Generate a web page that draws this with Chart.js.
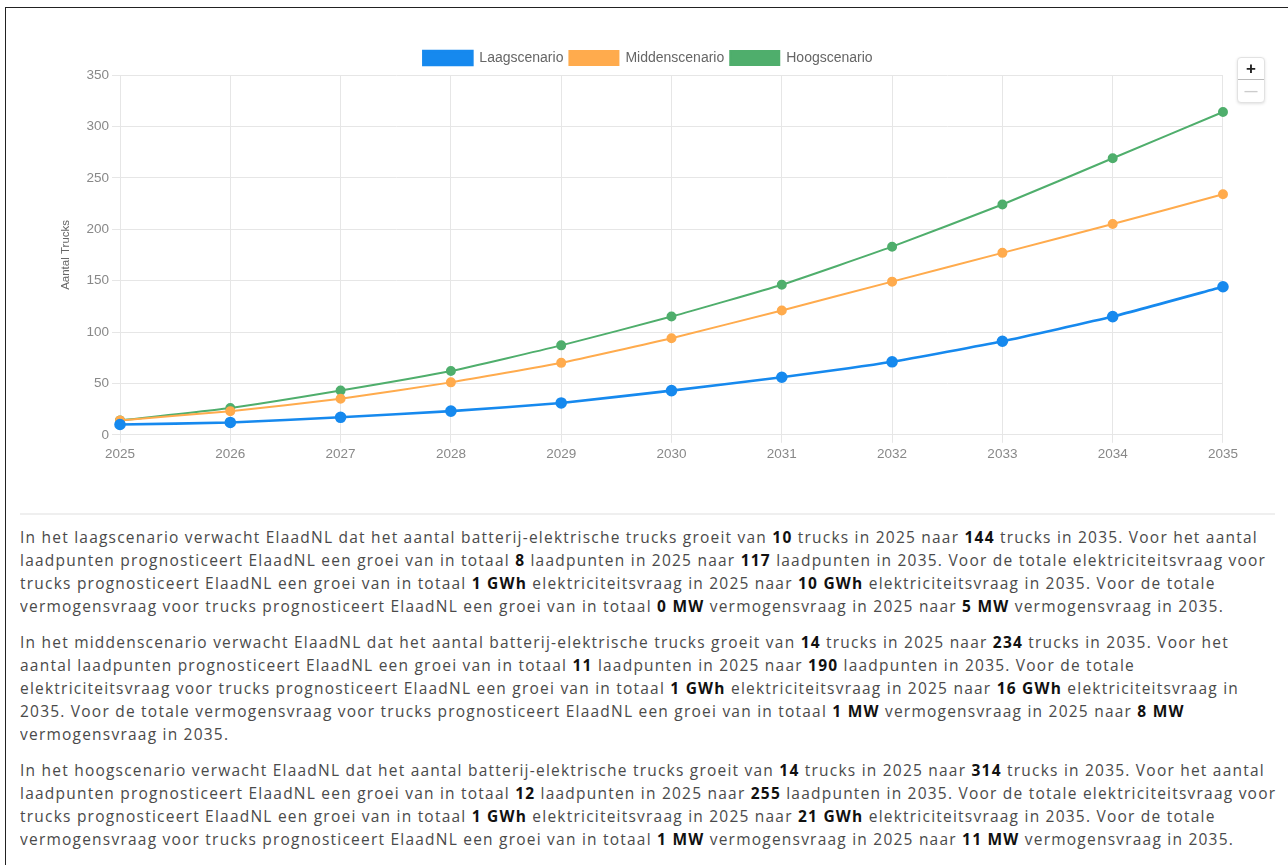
<!DOCTYPE html>
<html>
<head>
<meta charset="utf-8">
<script src="https://cdn.jsdelivr.net/npm/chart.js@4.4.1/dist/chart.umd.min.js"></script>
<style>
    html, body { margin: 0; padding: 0; background: #fff; width: 1288px; height: 865px; overflow: hidden; }
    #frame { position: absolute; left: 5px; top: 7px; width: 1300px; height: 900px; border-top: 1.5px solid #222; border-left: 1.5px solid #222; }
    #chartBox { position: absolute; left: 0px; top: 45px; width: 1241px; height: 420px; }
    #zoomCtl { position: absolute; left: 1237px; top: 57px; width: 26px; height: 44px; background: #fff; border: 1px solid #e2e2e2; border-radius: 4px; box-shadow: 0 1px 3px rgba(0,0,0,0.12); font-family: 'Liberation Sans', Arial, sans-serif; }
    #zoomCtl div { height: 21px; line-height: 21px; text-align: center; font-weight: bold; }
    #zoomCtl .plus { color: #222; font-size: 17px; border-bottom: 1px solid #bbb; }
    #zoomCtl .minus { color: #ccc; font-size: 13px; }
    #divider { position: absolute; left: 20px; top: 513px; width: 1255px; height: 2px; background: #efefef; }
    #text { position: absolute; left: 20px; top: 526px; width: 1256px; overflow: hidden; font-family: 'Open Sans', sans-serif; font-size: 15.5px; letter-spacing: 1.22px; line-height: 23px; color: #4a4a4a; white-space: nowrap; }
    #text p { margin: 0 0 13px 0; }
    #text b { color: #111; font-weight: 700; }
</style>
</head>
<body>
<div id="frame"></div>
<div id="chartBox"><canvas id="trucksChart"></canvas></div>
<div id="zoomCtl"><div class="plus">+</div><div class="minus">&#8212;</div></div>
<div id="divider"></div>
<div id="text">
<p>In het laagscenario verwacht ElaadNL dat het aantal batterij-elektrische trucks groeit van <b>10</b> trucks in 2025 naar <b>144</b> trucks in 2035. Voor het aantal<br>
laadpunten prognosticeert ElaadNL een groei van in totaal <b>8</b> laadpunten in 2025 naar <b>117</b> laadpunten in 2035. Voor de totale elektriciteitsvraag voor<br>
trucks prognosticeert ElaadNL een groei van in totaal <b>1 GWh</b> elektriciteitsvraag in 2025 naar <b>10 GWh</b> elektriciteitsvraag in 2035. Voor de totale<br>
vermogensvraag voor trucks prognosticeert ElaadNL een groei van in totaal <b>0 MW</b> vermogensvraag in 2025 naar <b>5 MW</b> vermogensvraag in 2035.</p>
<p>In het middenscenario verwacht ElaadNL dat het aantal batterij-elektrische trucks groeit van <b>14</b> trucks in 2025 naar <b>234</b> trucks in 2035. Voor het<br>
aantal laadpunten prognosticeert ElaadNL een groei van in totaal <b>11</b> laadpunten in 2025 naar <b>190</b> laadpunten in 2035. Voor de totale<br>
elektriciteitsvraag voor trucks prognosticeert ElaadNL een groei van in totaal <b>1 GWh</b> elektriciteitsvraag in 2025 naar <b>16 GWh</b> elektriciteitsvraag in<br>
2035. Voor de totale vermogensvraag voor trucks prognosticeert ElaadNL een groei van in totaal <b>1 MW</b> vermogensvraag in 2025 naar <b>8 MW</b><br>
vermogensvraag in 2035.</p>
<p>In het hoogscenario verwacht ElaadNL dat het aantal batterij-elektrische trucks groeit van <b>14</b> trucks in 2025 naar <b>314</b> trucks in 2035. Voor het aantal<br>
laadpunten prognosticeert ElaadNL een groei van in totaal <b>12</b> laadpunten in 2025 naar <b>255</b> laadpunten in 2035. Voor de totale elektriciteitsvraag voor<br>
trucks prognosticeert ElaadNL een groei van in totaal <b>1 GWh</b> elektriciteitsvraag in 2025 naar <b>21 GWh</b> elektriciteitsvraag in 2035. Voor de totale<br>
vermogensvraag voor trucks prognosticeert ElaadNL een groei van in totaal <b>1 MW</b> vermogensvraag in 2025 naar <b>11 MW</b> vermogensvraag in 2035.</p>
</div>

<script>
// data
const years = ['2025', '2026', '2027', '2028', '2029', '2030', '2031', '2032', '2033', '2034', '2035'];
const laag = [10, 12, 17, 23, 31, 43, 56, 71, 91, 115, 144];
const midden = [14, 23, 35, 51, 70, 94, 121, 149, 177, 205, 234];
const hoog = [14, 26, 43, 62, 87, 115, 146, 183, 224, 269, 314];

const blue = '#1689ee';
const orange = '#ffab4d';
const green = '#4fae6c';
const fontFam = "'Liberation Sans', Arial, sans-serif";

function makeSet(label, values, color, width, radius) {
    return {
        label: label,
        data: values,
        borderColor: color,
        backgroundColor: color,
        borderWidth: width,
        pointRadius: radius,
        pointHoverRadius: radius + 1,
        tension: 0.15,
        fill: false
    };
}

window.addEventListener("load", () => {
    var ctx = document.getElementById("trucksChart").getContext('2d');
    var myChart = new Chart(ctx, {
        type: 'line',
        data: {
            labels: years,
            datasets: [
                makeSet('Laagscenario', laag, blue, 2.6, 4.5),
                makeSet('Middenscenario', midden, orange, 2, 4),
                makeSet('Hoogscenario', hoog, green, 2, 4)
            ]
        },
        options: {
            responsive: true,
            maintainAspectRatio: false,
            animation: false,
            layout: { padding: { left: 55, right: 0, top: 0, bottom: 0 } },
            plugins: {
                legend: {
                    position: 'top',
                    labels: {
                        boxWidth: 49,
                        boxHeight: 14,
                        padding: 6,
                        color: '#666',
                        font: { family: fontFam, size: 14 }
                    }
                },
                tooltip: { enabled: false }
            },
            scales: {
                x: {
                    grid: { color: '#e6e6e6' },
                    border: { color: '#e6e6e6' },
                    ticks: { color: '#888', font: { family: fontFam, size: 13.5 } }
                },
                y: {
                    min: 0,
                    max: 350,
                    ticks: { stepSize: 50, color: '#888', font: { family: fontFam, size: 13.5 } },
                    grid: { color: '#e6e6e6' },
                    border: { color: '#e6e6e6' },
                    title: {
                        display: true,
                        text: 'Aantal Trucks',
                        color: '#666',
                        font: { family: "'Liberation Sans Narrow', 'Liberation Sans', Arial, sans-serif", size: 11.5 }
                    },
                    afterFit: function (scale) { scale.width = 65; }
                }
            }
        }
    });
});
</script>
</body>
</html>
